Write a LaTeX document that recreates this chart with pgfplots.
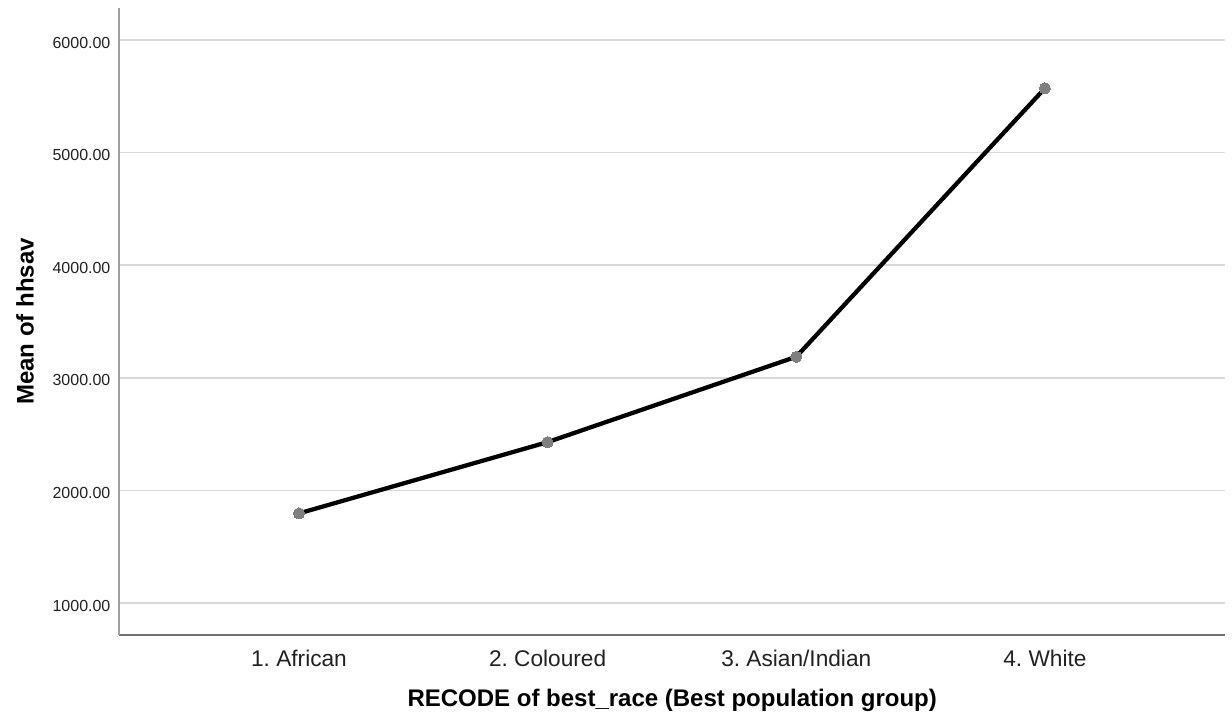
\documentclass[border=0pt]{standalone}
\usepackage{fontspec}
\setmainfont{Liberation Sans}
\usepackage{pgfplots}
\pgfplotsset{compat=1.18}
\definecolor{gridc}{HTML}{D9D9D9}
\definecolor{lspine}{HTML}{A0A0A0}
\definecolor{bspine}{HTML}{707070}
\definecolor{markc}{HTML}{7F7F7F}
\definecolor{txt}{HTML}{212121}
\frenchspacing
\begin{document}
\begin{tikzpicture}
\useasboundingbox (0,0) rectangle (924pt,543pt);
\begin{axis}[
  at={(89.6pt,66.75pt)}, anchor=south west,
  scale only axis, width=829.1pt, height=470.25pt,
  xmin=0.278, xmax=4.724, ymin=716, ymax=6284,
  axis x line*=bottom, axis y line*=left,
  x axis line style={draw=bspine, line width=1.2pt, -},
  y axis line style={draw=lspine, line width=1.5pt, -},
  xtick={1,2,3,4},
  xticklabels={1. African,2. Coloured,3. Asian/Indian,4. White},
  ytick={1000,2000,3000,4000,5000,6000},
  major tick length=0pt, tick style={draw=none},
  ymajorgrids, grid style={draw=gridc, line width=1.1pt},
  /pgf/number format/assume math mode=true,
  yticklabel style={/pgf/number format/fixed, /pgf/number format/fixed zerofill, /pgf/number format/precision=2, /pgf/number format/1000 sep={}, font=\fontsize{12}{14}\selectfont, text=txt, anchor=east, inner sep=0pt, xshift=-6.6pt, yshift=-2pt},
  xticklabel style={font=\fontsize{17}{20}\selectfont, text=txt, anchor=base, inner sep=0pt, yshift=-24pt},
  xlabel={RECODE of best\_race (Best population group)},
  ylabel={Mean of hhsav},
  xlabel style={font=\bfseries\fontsize{18}{21}\selectfont, at={(axis description cs:0.5,-0.1142)}, anchor=base, inner sep=0pt},
  ylabel style={font=\bfseries\fontsize{18}{21}\selectfont, at={(axis description cs:-0.0777,0.5)}, anchor=base, inner sep=0pt},
  clip=false,
]
\addplot[black, line width=3.2pt, mark=*, mark size=4.2pt, mark options={fill=markc, draw=markc, line width=0pt, solid}] coordinates {
  (1,1796) (2,2429) (3,3187) (4,5571)
};
\end{axis}
\end{tikzpicture}
\end{document}
